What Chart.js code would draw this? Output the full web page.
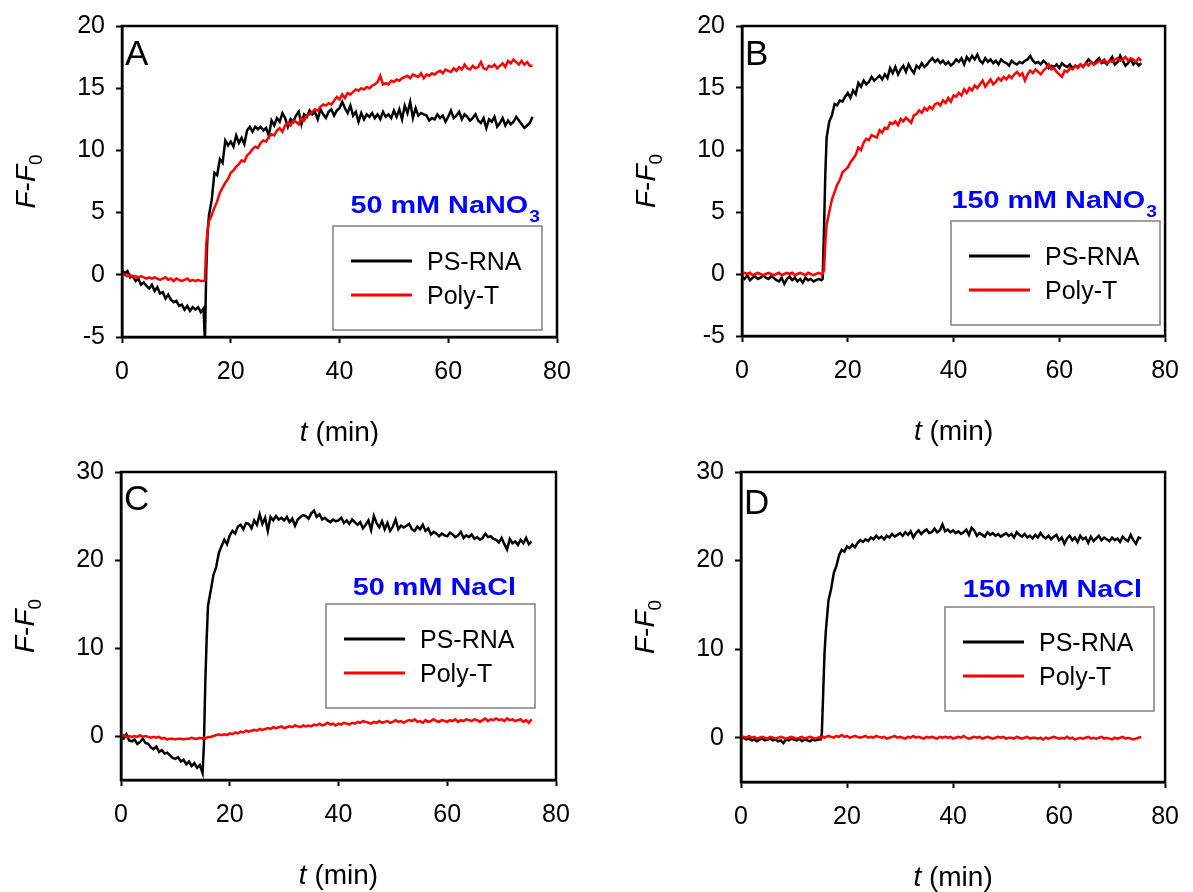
<!DOCTYPE html>
<html>
<head>
<meta charset="utf-8">
<script src="https://cdn.jsdelivr.net/npm/chart.js@4/dist/chart.umd.min.js"></script>
<style>
  body { margin: 0; background: #fff; width: 1193px; height: 892px; position: relative; overflow: hidden; }
  canvas { position: absolute; }
</style>
</head>
<body>
<canvas id="cA" width="596" height="446" style="left:0;top:0"></canvas>
<canvas id="cB" width="597" height="446" style="left:596px;top:0"></canvas>
<canvas id="cC" width="596" height="446" style="left:0;top:446px"></canvas>
<canvas id="cD" width="597" height="446" style="left:596px;top:446px"></canvas>
<script>
// time (min)
var t = [
  0, 0.5, 1, 1.5, 2, 2.5, 3, 3.5, 4, 4.5,
  5, 5.5, 6, 6.5, 7, 7.5, 8, 8.5, 9, 9.5,
  10, 10.5, 11, 11.5, 12, 12.5, 13, 13.5, 14, 14.5,
  15, 15.25, 15.5, 15.75, 16, 16.5, 17, 17.5, 18, 18.5,
  19, 19.5, 20, 20.5, 21, 21.5, 22, 22.5, 23, 23.5,
  24, 24.5, 25, 25.5, 26, 26.5, 27, 27.5, 28, 28.5,
  29, 29.5, 30, 30.5, 31, 31.5, 32, 32.5, 33, 33.5,
  34, 34.5, 35, 35.5, 36, 36.5, 37, 37.5, 38, 38.5,
  39, 39.5, 40, 40.5, 41, 41.5, 42, 42.5, 43, 43.5,
  44, 44.5, 45, 45.5, 46, 46.5, 47, 47.5, 48, 48.5,
  49, 49.5, 50, 50.5, 51, 51.5, 52, 52.5, 53, 53.5,
  54, 54.5, 55, 55.5, 56, 56.5, 57, 57.5, 58, 58.5,
  59, 59.5, 60, 60.5, 61, 61.5, 62, 62.5, 63, 63.5,
  64, 64.5, 65, 65.5, 66, 66.5, 67, 67.5, 68, 68.5,
  69, 69.5, 70, 70.5, 71, 71.5, 72, 72.5, 73, 73.5,
  74, 74.5, 75, 75.5
];

// A: 50 mM NaNO3
var aBlack = [
  0.4, 0.1, 0.3, -0.2, -0.1, -0.5, -0.3, -0.8, -0.6, -0.9,
  -1.1, -0.8, -1.3, -1.0, -1.5, -1.4, -1.9, -1.6, -2.0, -2.2,
  -2.1, -2.5, -2.4, -2.8, -2.5, -2.9, -2.6, -2.8, -2.6, -3.0,
  -2.7, -5.4, 0.5, 3.5, 4.8, 6.0, 8.2, 8.0, 9.3, 9.0,
  10.8, 10.4, 10.7, 10.3, 11.2, 10.6, 11.0, 10.5, 11.6, 11.9,
  11.5, 11.9, 11.7, 11.9, 11.6, 11.8, 11.2, 12.4, 12.0, 12.6,
  12.3, 13.0, 12.6, 11.9, 12.5, 12.3, 12.8, 13.1, 12.1, 12.9,
  12.7, 13.2, 12.9, 13.1, 12.5, 13.3, 12.9, 12.6, 13.1, 13.3,
  12.8, 13.2, 13.4, 13.9, 13.4, 13.0, 13.6, 12.8, 13.1, 12.3,
  13.0, 12.5, 12.9, 12.7, 13.0, 12.6, 12.9, 12.5, 13.1, 12.7,
  12.9, 12.6, 13.2, 12.7, 13.3, 12.5, 13.6, 13.0, 13.9, 12.6,
  13.4, 12.8, 13.0, 12.9, 12.8, 12.4, 12.6, 12.5, 12.9, 12.6,
  12.8, 12.3, 12.7, 13.2, 12.6, 12.8, 13.1, 12.5, 12.9, 12.7,
  12.4, 12.6, 12.9, 12.4, 12.2, 12.6, 11.8, 12.5, 12.3, 12.7,
  11.9, 12.2, 12.6, 12.0, 12.4, 12.1, 12.3, 12.7, 12.4, 12.1,
  11.8, 12.0, 12.2, 12.7
];
var aRed = [
  0.0, 0.0, -0.1, 0.0, -0.2, -0.1, -0.2, -0.1, -0.2, -0.3,
  -0.2, -0.3, -0.2, -0.3, -0.4, -0.3, -0.2, -0.4, -0.3, -0.5,
  -0.3, -0.4, -0.5, -0.4, -0.3, -0.5, -0.4, -0.5, -0.4, -0.5,
  -0.5, -0.4, 2.5, 3.6, 4.3, 4.8, 5.4, 5.9, 6.6, 7.0,
  7.4, 7.7, 8.2, 8.4, 8.7, 8.9, 9.2, 9.1, 9.6, 9.8,
  10.1, 10.3, 10.2, 10.6, 10.8, 10.7, 11.1, 11.3, 11.2, 11.6,
  11.8, 11.5, 12.0, 12.2, 12.0, 12.4, 12.3, 12.1, 12.6, 12.4,
  12.8, 12.9, 13.1, 13.3, 13.2, 13.5, 13.7, 13.6, 13.8, 13.7,
  14.0, 14.3, 14.1, 14.5, 14.2, 14.6, 14.5, 14.7, 14.9, 14.8,
  15.0, 14.9, 15.1, 15.0, 15.2, 15.3, 15.5, 16.0, 15.3, 15.4,
  15.3, 15.6, 15.5, 15.7, 15.6, 15.8, 15.9, 16.0, 15.8, 16.1,
  16.0, 15.9, 16.2, 15.8, 16.1, 16.0, 16.2, 16.1, 16.3, 16.4,
  16.2, 16.5, 16.4, 16.3, 16.6, 16.4, 16.7, 16.5, 16.9, 16.6,
  16.5, 16.8, 16.6, 16.7, 17.1, 16.6, 16.5, 16.8, 16.7, 16.9,
  16.6, 16.8, 17.0, 16.7, 17.2, 17.0, 17.3, 17.1, 16.9, 17.2,
  16.9, 17.1, 16.8, 16.8
];

// B: 150 mM NaNO3
var bBlack = [
  -0.2, -0.4, -0.1, -0.5, -0.3, -0.2, -0.4, -0.3, -0.1, -0.3,
  -0.4, -0.2, -0.3, -0.5, -0.6, -0.3, -0.8, -0.4, -0.2, -0.5,
  -0.3, -0.6, -0.4, -0.7, -0.3, -0.5, -0.4, -0.6, -0.5, -0.4,
  -0.5, -0.4, 3.5, 8.0, 11.0, 12.3, 12.8, 13.7, 13.6, 14.0,
  13.9, 14.3, 14.6, 14.2, 14.8, 14.5, 15.4, 15.1, 15.6, 15.3,
  15.5, 15.9, 15.6, 15.8, 16.0, 15.7, 16.1, 15.8, 16.6, 16.2,
  16.7, 16.1, 16.5, 16.8, 16.3, 16.9, 16.5, 16.2, 16.8, 16.6,
  17.0, 16.7, 16.9, 17.2, 17.4, 17.1, 17.3, 17.0, 17.2, 16.9,
  17.1, 16.8, 17.0, 17.3, 17.1, 17.4, 16.9, 17.5, 17.2, 17.6,
  17.3, 17.7, 17.2, 17.0, 17.4, 17.1, 17.3, 17.0, 17.2, 16.9,
  17.3, 17.1, 17.0, 16.8, 17.2, 17.0, 16.9, 17.1, 17.0, 17.2,
  17.3, 17.6, 17.2, 17.0, 17.1, 16.9, 17.2, 17.0, 16.6, 16.8,
  16.7, 16.9, 16.6, 17.0, 16.8, 16.7, 16.9, 16.6, 16.8, 16.7,
  16.9, 16.7, 17.0, 17.3, 17.1, 16.9, 17.2, 17.4, 17.0, 17.1,
  16.9, 17.2, 17.5, 16.9, 17.1, 17.6, 17.2, 16.8, 17.0, 17.3,
  16.9, 17.1, 16.8, 17.0
];
var bRed = [
  0.0, 0.1, 0.0, 0.1, -0.1, 0.0, 0.1, 0.0, -0.1, 0.0,
  0.1, 0.0, -0.1, 0.0, 0.1, -0.1, 0.0, 0.1, 0.0, 0.1,
  -0.1, 0.0, 0.1, 0.0, -0.1, 0.1, 0.0, -0.1, 0.0, 0.1,
  0.0, 0.0, 0.3, 2.5, 4.0, 5.0, 6.0, 6.6, 7.2, 7.6,
  8.2, 8.4, 8.6, 9.0, 9.3, 9.6, 10.2, 10.0, 10.6, 10.9,
  10.8, 11.2, 11.1, 11.0, 11.6, 11.4, 11.8, 11.7, 12.2, 12.1,
  12.3, 12.0, 12.5, 12.3, 12.6, 12.4, 12.2, 12.8, 12.9, 13.2,
  13.0, 13.4, 13.2, 13.5, 13.3, 13.7, 13.8, 13.6, 14.0, 13.8,
  14.2, 13.9, 14.4, 14.3, 14.6, 14.4, 14.9, 14.6, 15.0, 14.8,
  15.2, 15.0, 15.3, 15.6, 15.1, 15.4, 15.7, 15.3, 15.5, 15.8,
  15.6, 15.9, 15.7, 16.0, 15.8, 16.1, 16.3, 16.0, 16.2, 15.6,
  16.1, 16.4, 16.2, 16.5, 16.3, 16.1, 16.4, 16.6, 16.9, 16.5,
  16.6, 16.3, 16.1, 15.9, 16.4, 16.3, 16.6, 16.5, 16.8, 16.6,
  16.9, 16.7, 17.0, 16.8, 17.1, 16.9, 17.0, 17.2, 17.1, 17.3,
  17.0, 17.2, 17.1, 17.3, 17.4, 17.2, 17.3, 17.5, 17.2, 17.4,
  17.3, 17.1, 17.4, 17.2
];

// C: 50 mM NaCl
var cBlack = [
  0.0, -0.3, 0.2, -0.5, -0.6, -0.4, -0.9, -0.7, -0.3, -0.8,
  -0.9, -1.3, -1.5, -1.2, -1.8, -1.6, -2.0, -1.9, -2.2, -2.5,
  -2.6, -2.4, -2.9, -2.7, -3.2, -2.9, -3.4, -3.1, -3.6, -3.3,
  -4.2, -1.0, 6.0, 11.0, 14.8, 16.5, 18.3, 19.2, 20.8, 21.6,
  22.3, 21.8, 22.8, 23.3, 23.0, 23.8, 24.0, 23.5, 24.2, 24.1,
  23.6, 24.5, 24.0, 25.2, 24.1, 24.8, 23.3, 24.9, 24.5, 25.0,
  24.6, 24.8, 24.5, 24.9, 24.3, 24.7, 23.9, 24.6, 24.9, 25.1,
  25.0, 24.7, 25.3, 25.6, 24.9, 25.2, 24.6, 24.8, 24.5, 24.3,
  24.6, 24.4, 24.5, 24.8, 24.2, 24.5, 24.1, 24.6, 24.3, 24.0,
  24.3, 23.6, 24.0, 24.5, 23.4, 25.0, 24.2, 23.7, 24.4, 23.5,
  24.2, 23.3, 23.8, 24.6, 23.5, 23.9, 23.7, 23.9, 24.1, 23.5,
  23.3, 23.8, 23.5, 24.0, 23.3, 23.6, 22.9, 23.2, 23.0, 22.7,
  23.0, 22.8, 22.7, 23.1, 22.9, 22.6, 22.8, 23.2, 22.5, 22.8,
  22.6, 22.9, 22.4, 22.6, 22.3, 22.5, 23.0, 22.6, 22.7, 22.4,
  22.3, 22.0, 22.5, 21.8, 21.2, 22.4, 21.9, 22.1, 21.7, 22.3,
  21.9, 22.5, 21.8, 22.1
];
var cRed = [
  0.0, 0.1, -0.1, 0.0, -0.1, 0.0, -0.1, 0.1, -0.1, 0.0,
  -0.1, -0.2, -0.1, -0.2, -0.1, -0.3, -0.2, -0.4, -0.3, -0.3,
  -0.4, -0.3, -0.3, -0.4, -0.3, -0.3, -0.2, -0.3, -0.3, -0.2,
  -0.3, -0.2, -0.3, -0.2, -0.1, -0.1, 0.0, 0.1, 0.2, 0.1,
  0.2, 0.1, 0.3, 0.2, 0.4, 0.3, 0.5, 0.4, 0.6, 0.5,
  0.6, 0.7, 0.6, 0.8, 0.7, 0.8, 0.9, 0.8, 1.0, 0.9,
  1.0, 1.1, 0.9, 1.0, 1.1, 1.0, 1.2, 1.1, 1.0, 1.2,
  1.1, 1.2, 1.1, 1.3, 1.2, 1.4, 1.2, 1.3, 1.5, 1.3,
  1.4, 1.2, 1.4, 1.3, 1.5, 1.4, 1.3, 1.5, 1.4, 1.6,
  1.5, 1.7, 1.6, 1.5, 1.4, 1.6, 1.5, 1.7, 1.5, 1.6,
  1.7, 1.5, 1.6, 1.8, 1.6, 1.7, 1.5, 1.7, 1.8, 1.7,
  1.9, 1.6, 1.7, 1.5, 1.8, 1.6, 1.7, 1.9, 1.7, 1.6,
  1.8, 1.7, 1.6, 1.8, 1.7, 1.9, 1.6, 1.8, 1.7, 1.9,
  1.8, 1.7, 1.9, 1.8, 1.6, 1.8, 2.0, 1.7, 1.9, 1.8,
  2.0, 1.8, 1.9, 1.7, 2.0, 1.8, 1.9, 1.7, 1.8, 1.9,
  1.6, 1.8, 1.5, 1.9
];

// D: 150 mM NaCl
var dBlack = [
  -0.1, 0.0, -0.2, -0.1, -0.3, -0.2, -0.4, -0.2, -0.1, -0.3,
  -0.2, -0.1, -0.3, -0.2, -0.4, -0.3, -0.6, -0.2, -0.3, -0.1,
  -0.2, -0.3, -0.1, -0.4, -0.2, -0.3, -0.4, -0.2, -0.3, -0.2,
  -0.2, 0.5, 5.0, 9.5, 12.0, 15.5, 16.8, 18.6, 19.4, 20.6,
  21.2, 21.0, 21.6, 21.4, 21.8, 21.5, 22.0, 22.3, 22.1, 22.4,
  22.2, 22.6, 22.4, 22.8, 22.5, 22.7, 22.4, 22.8, 22.6, 23.0,
  22.7, 22.9, 23.1, 22.8, 23.2, 22.9, 23.3, 22.6, 23.1, 23.4,
  23.0, 23.3, 23.5, 23.1, 23.2, 23.6, 23.2, 23.4, 24.1, 23.3,
  23.5, 23.2, 23.4, 23.1, 23.3, 23.0, 23.2, 23.5, 22.9, 23.7,
  23.4, 22.8, 23.1, 22.9, 22.7, 23.2, 22.9, 23.1, 22.8, 23.0,
  22.7, 22.9, 23.1, 22.8, 23.0, 22.6, 23.2, 22.9, 22.7, 23.0,
  22.6, 22.8, 22.5, 22.9, 22.6, 23.1, 22.7, 22.5, 22.8, 22.4,
  22.7, 22.9, 22.3, 22.6, 21.9, 22.5, 22.8, 22.3, 22.6, 22.1,
  22.8, 22.4, 22.6, 22.0, 22.7, 22.2, 22.5, 22.8, 22.3, 22.6,
  22.4, 22.2, 22.6, 22.3, 22.5, 22.1, 22.7, 22.4, 22.2, 22.9,
  22.3, 21.9, 22.6, 22.5
];
var dRed = [
  0.0, 0.1, 0.0, 0.2, 0.0, 0.1, -0.1, 0.0, 0.1, 0.0,
  -0.1, 0.1, 0.0, -0.1, 0.0, 0.1, 0.0, -0.1, 0.0, 0.1,
  0.0, -0.1, 0.0, 0.1, -0.1, 0.0, 0.1, 0.0, -0.1, 0.0,
  0.1, 0.0, 0.1, 0.0, 0.1, 0.2, 0.1, 0.0, 0.2, 0.1,
  0.3, 0.1, 0.2, 0.0, 0.1, 0.2, 0.1, 0.0, 0.1, 0.2,
  0.0, 0.1, 0.0, 0.2, 0.1, 0.0, 0.1, -0.1, 0.0, 0.1,
  0.2, 0.0, 0.1, 0.0, -0.1, 0.1, 0.0, 0.2, 0.0, 0.1,
  0.0, -0.1, 0.1, 0.0, 0.1, 0.0, -0.1, 0.1, 0.0, 0.1,
  0.0, 0.1, -0.1, 0.0, 0.1, 0.0, 0.2, 0.0, -0.1, 0.0,
  0.1, 0.0, 0.1, -0.1, 0.0, 0.1, 0.0, -0.1, 0.0, 0.1,
  0.0, 0.1, -0.1, 0.0, 0.0, -0.1, 0.1, 0.0, -0.1, 0.0,
  0.1, -0.1, 0.0, 0.0, -0.1, 0.0, -0.2, 0.0, -0.1, 0.0,
  0.1, 0.0, -0.1, 0.0, -0.1, 0.1, -0.1, 0.0, -0.2, -0.1,
  0.0, -0.1, 0.0, 0.1, -0.1, 0.0, -0.1, 0.0, 0.1, -0.1,
  0.0, -0.1, -0.2, 0.0, -0.1, 0.0, 0.1, -0.1, 0.0, -0.1,
  -0.2, -0.1, 0.0, 0.1
];

var seriesNames = ['PS-RNA', 'Poly-T'];
var xTicks = [0, 20, 40, 60, 80];

var FONT = '"Liberation Sans", Arial, Helvetica, sans-serif';

var panels = [
  { id: 'cA', letter: 'A', ymin: -5, ymax: 20, ystep: 5, bounds: true, black: aBlack, red: aRed,
    note: ['50 mM NaNO', '3'], top: 23, right: 39, yw: 122, xh: 109, letterY: 39, box: [211, 200], noteAt: [418, 187] },
  { id: 'cB', letter: 'B', ymin: -5, ymax: 20, ystep: 5, bounds: true, black: bBlack, red: bRed,
    note: ['150 mM NaNO', '3'], top: 23, right: 16, yw: 146, xh: 110, letterY: 39, box: [209, 195], noteAt: [415, 182] },
  { id: 'cC', letter: 'C', ymin: -5, ymax: 30, ystep: 10, bounds: false, black: cBlack, red: cRed,
    note: ['50 mM NaCl', ''], top: 19, right: 40, yw: 121, xh: 112, letterY: 38, box: [205, 132], noteAt: [395, 123] },
  { id: 'cD', letter: 'D', ymin: -5, ymax: 30, ystep: 10, bounds: false, black: dBlack, red: dRed,
    note: ['150 mM NaCl', ''], top: 22, right: 16, yw: 145, xh: 110, letterY: 42, box: [204, 135], noteAt: [401, 125] }
];

function pts(ys) {
  return t.map(function (x, i) { return { x: x, y: ys[i] }; });
}

function deco(p) {
  return {
    id: 'deco' + p.letter,
    afterDraw: function (chart) {
      var ctx = chart.ctx, a = chart.chartArea;
      ctx.save();
      // frame
      ctx.strokeStyle = '#000';
      ctx.lineWidth = 2.5;
      ctx.strokeRect(a.left, a.top, a.right - a.left, a.bottom - a.top);

      // panel letter
      ctx.fillStyle = '#000';
      ctx.textAlign = 'left';
      ctx.textBaseline = 'alphabetic';
      ctx.font = '35px ' + FONT;
      ctx.fillText(p.letter, a.left + 3, a.top + p.letterY);

      // salt condition
      ctx.font = 'bold 24px ' + FONT;
      var w1 = ctx.measureText(p.note[0]).width;
      ctx.font = 'bold 16px ' + FONT;
      var w2 = p.note[1] ? ctx.measureText(p.note[1]).width + 1 : 0;
      var sx = 1.2;
      ctx.save();
      ctx.fillStyle = '#0000ff';
      ctx.translate(a.left + p.noteAt[0] - (w1 + w2) * sx, a.top + p.noteAt[1]);
      ctx.scale(sx, 1);
      ctx.font = 'bold 24px ' + FONT;
      ctx.fillText(p.note[0], 0, 0);
      if (p.note[1]) {
        ctx.font = 'bold 16px ' + FONT;
        ctx.fillText(p.note[1], w1 + 1, 9);
      }
      ctx.restore();

      // legend
      var bx = a.left + p.box[0], by = a.top + p.box[1];
      ctx.fillStyle = '#fff';
      ctx.fillRect(bx, by, 209, 104);
      ctx.strokeStyle = '#808080';
      ctx.lineWidth = 1.5;
      ctx.strokeRect(bx, by, 209, 104);
      ctx.font = '25px ' + FONT;
      chart.data.datasets.forEach(function (ds, i) {
        var ly = by + 35 + i * 34;
        ctx.strokeStyle = ds.borderColor;
        ctx.lineWidth = 3;
        ctx.beginPath();
        ctx.moveTo(bx + 18, ly);
        ctx.lineTo(bx + 79, ly);
        ctx.stroke();
        ctx.fillStyle = '#000';
        ctx.fillText(ds.label, bx + 94, ly + 9);
      });

      // x title: t (min)
      ctx.fillStyle = '#000';
      var cx = (a.left + a.right) / 2;
      ctx.font = 'italic 28px ' + FONT;
      var wt = ctx.measureText('t').width;
      ctx.font = '28px ' + FONT;
      var wm = ctx.measureText(' (min)').width;
      var x0 = cx - (wt + wm) / 2, yb = a.bottom + 104;
      ctx.font = 'italic 28px ' + FONT;
      ctx.fillText('t', x0, yb);
      ctx.font = '28px ' + FONT;
      ctx.fillText(' (min)', x0 + wt, yb);

      // y title: F-F0
      ctx.translate(a.left - 87, (a.top + a.bottom) / 2);
      ctx.rotate(-Math.PI / 2);
      var parts = [['F', 'italic 28px ', 0], ['-', '28px ', 0], ['F', 'italic 28px ', 0], ['0', '19px ', 7]];
      var tw = 0;
      parts.forEach(function (q) { ctx.font = q[1] + FONT; tw += ctx.measureText(q[0]).width; });
      var px = -tw / 2;
      parts.forEach(function (q) {
        ctx.font = q[1] + FONT;
        ctx.fillText(q[0], px, q[2]);
        px += ctx.measureText(q[0]).width;
      });
      ctx.restore();
    }
  };
}

panels.forEach(function (p) {
  new Chart(document.getElementById(p.id), {
    type: 'line',
    data: {
      datasets: [{
        label: seriesNames[0],
        data: pts(p.black),
        borderColor: '#000000',
        borderWidth: 2.5,
        pointRadius: 0,
        tension: 0,
        order: 1
      }, {
        label: seriesNames[1],
        data: pts(p.red),
        borderColor: '#ff0000',
        borderWidth: 2.5,
        pointRadius: 0,
        tension: 0,
        order: 0
      }]
    },
    options: {
      responsive: false,
      animation: false,
      events: [],
      layout: { autoPadding: false, padding: { top: p.top, right: p.right, left: 0, bottom: 0 } },
      plugins: { legend: { display: false }, tooltip: { enabled: false } },
      scales: {
        x: {
          type: 'linear',
          min: 0, max: 80,
          afterBuildTicks: function (s) { s.ticks = xTicks.map(function (v) { return { value: v }; }); },
          afterFit: function (s) { s.height = p.xh; },
          grid: { drawOnChartArea: false, drawTicks: true, tickLength: 6, tickWidth: 2, tickColor: '#000' },
          border: { display: true, color: '#000', width: 2.5 },
          ticks: { color: '#000', padding: 14, maxRotation: 0, font: { family: FONT, size: 25 } }
        },
        y: {
          min: p.ymin, max: p.ymax,
          afterFit: function (s) { s.width = p.yw; },
          grid: { drawOnChartArea: false, drawTicks: true, tickLength: 6, tickWidth: 2, tickColor: '#000' },
          border: { display: true, color: '#000', width: 2.5 },
          ticks: { stepSize: p.ystep, includeBounds: p.bounds, color: '#000', padding: 11, font: { family: FONT, size: 25 } }
        }
      }
    },
    plugins: [deco(p)]
  });
});
</script>
</body>
</html>
